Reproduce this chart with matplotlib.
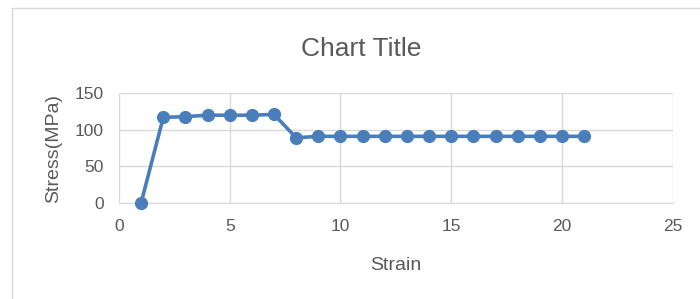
import matplotlib.pyplot as plt
from matplotlib.patches import Rectangle

strain = [1, 2, 3, 4, 5, 6, 7, 8, 9, 10, 11, 12, 13, 14, 15, 16, 17, 18, 19, 20, 21]
stress = [0, 117, 118, 120, 120, 120, 121, 89, 91, 91, 91, 91, 91, 91, 91, 91, 91, 91, 91, 91, 91]
x_ticks = [0, 5, 10, 15, 20, 25]
y_ticks = [0, 50, 100, 150]

c_line = '#4A7EBB'
c_text = '#595959'
c_grid = '#D9D9D9'

plt.rcParams['font.family'] = ['Liberation Sans', 'DejaVu Sans']

fig = plt.figure(figsize=(7, 2.99), dpi=100)
fig.patch.set_facecolor('white')
# chart area frame
fig.patches.append(Rectangle((12 / 700, -0.05), 1.0, 1 - 8 / 299 + 0.05, transform=fig.transFigure,
                             fill=False, edgecolor='#D9D9D9', linewidth=1))

ax = fig.add_axes([0.170, 0.322, 0.791, 0.366])
ax.plot(strain, stress, color=c_line, linewidth=2.6, marker='o', markersize=8.5,
        markerfacecolor=c_line, markeredgecolor=c_line, clip_on=False, zorder=3)

ax.set_xlim(0, 25)
ax.set_ylim(0, 150)
ax.set_xticks(x_ticks)
ax.set_yticks(y_ticks)
ax.grid(True, color=c_grid, linewidth=1)
ax.set_axisbelow(True)
for s in ['top', 'right', 'left']:
    ax.spines[s].set_visible(False)
ax.spines['bottom'].set_color(c_grid)
ax.tick_params(length=0, labelsize=12.5, colors=c_text)
ax.tick_params(axis='x', pad=12)
ax.tick_params(axis='y', pad=11)

ax.set_xlabel('Strain', fontsize=14, color=c_text, labelpad=16)
ax.set_ylabel('Stress(MPa)', fontsize=14, color=c_text, labelpad=9)
fig.text(0.516, 0.835, 'Chart Title', ha='center', va='center', fontsize=19, color=c_text)

fig.savefig('out.png', dpi=100)
